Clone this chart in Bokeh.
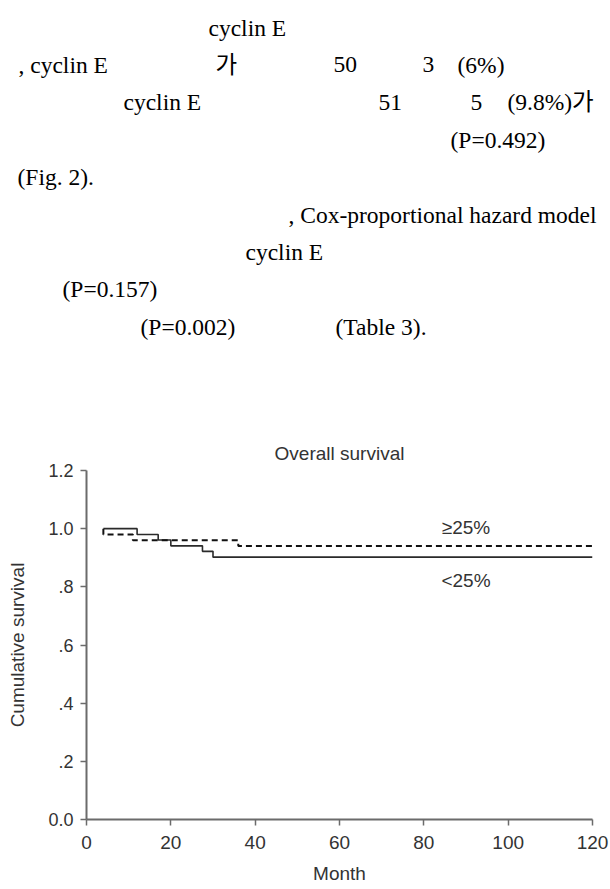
from bokeh.plotting import figure
from bokeh.models import Range1d, FixedTicker, CustomJSTickFormatter
from bokeh.layouts import column
from bokeh.embed import file_html
from bokeh.resources import INLINE
from bokeh.core.properties import value

# ---- Kaplan-Meier data ----
lo_month = [4, 12, 17, 20, 27.5, 30, 120]          # <25% (solid)
lo_surv = [1.0, 0.980, 0.961, 0.941, 0.922, 0.902, 0.902]
hi_month = [4, 4, 11, 36, 120]                      # >=25% (dashed)
hi_surv = [1.0, 0.98, 0.96, 0.94, 0.94]
group_labels = ["\u226525%", "<25%"]
group_label_month = [90, 90]
group_label_surv = [1.004, 0.822]

x_ticks = [0, 20, 40, 60, 80, 100, 120]
y_ticks = [0, 0.2, 0.4, 0.6, 0.8, 1.0, 1.2]
y_tick_labels = ["0.0", ".2", ".4", ".6", ".8", "1.0", "1.2"]

# ---- text fragments of the page above the figure ----
frag_text = ["cyclin  E",
             ", cyclin E", "\uac00", "50", "3", "(6%)",
             "cyclin E", "51", "5", "(9.8%)\uac00",
             "(P=0.492)",
             "(Fig. 2).",
             ", Cox-proportional hazard model",
             "cyclin  E",
             "(P=0.157)",
             "(P=0.002)", "(Table 3)."]
frag_x = [208, 18, 215, 333, 422, 457, 123, 378, 470, 507, 450, 17, 288, 245, 62, 140, 335]
frag_line = [0, 1, 1, 1, 1, 1, 2, 2, 2, 2, 3, 4, 5, 6, 7, 8, 8]
LINE0 = 27
LINE_H = 37.4

SANS = "Liberation Sans"
SERIF = "Liberation Serif, Noto Sans CJK KR"

W, H = 610, 889
TOP_H = 345
F_LEFT, F_RIGHT, F_TOP, F_BOTTOM = 86, 592, 470, 819

# ---- top: text panel (page coordinates) ----
t = figure(width=W, height=TOP_H, x_range=Range1d(0, W), y_range=Range1d(TOP_H, 0),
           output_backend="svg", toolbar_location=None, min_border=0,
           x_axis_location=None, y_axis_location=None, frame_align=False)
t.grid.visible = False
t.outline_line_color = None
t.text(x=frag_x, y=[LINE0 + LINE_H * k for k in frag_line], text=frag_text,
       text_font=value(SERIF), text_font_size="23.5px", text_color="#000000",
       text_align="left", text_baseline="alphabetic")

# ---- bottom: survival chart ----
CH = H - TOP_H
p = figure(width=W, height=CH, x_range=Range1d(0, 120), y_range=Range1d(0, 1.2),
           output_backend="svg", toolbar_location=None, frame_align=False,
           min_border_left=F_LEFT, min_border_right=W - F_RIGHT,
           min_border_top=F_TOP - TOP_H, min_border_bottom=H - F_BOTTOM,
           title="Overall survival")
p.title.align = "center"
p.title.text_font = SANS
p.title.text_font_size = "19px"
p.title.text_font_style = "normal"
p.title.text_color = "#333333"
p.title.standoff = 13
p.grid.visible = False
p.outline_line_color = None

AX = "#6b6b6b"
for ax in (p.xaxis[0], p.yaxis[0]):
    ax.axis_line_color = AX
    ax.axis_line_width = 2
    ax.major_tick_line_color = AX
    ax.major_tick_line_width = 1.5
    ax.major_tick_in = 0
    ax.major_tick_out = 6
    ax.minor_tick_in = 0
    ax.minor_tick_out = 0
    ax.major_label_text_font = SANS
    ax.major_label_text_color = "#333333"
    ax.axis_label_text_font = SANS
    ax.axis_label_text_font_size = "19px"
    ax.axis_label_text_font_style = "normal"
    ax.axis_label_text_color = "#333333"

p.xaxis.ticker = FixedTicker(ticks=x_ticks)
p.xaxis.major_label_text_font_size = "19px"
p.xaxis.major_label_standoff = 10
p.xaxis.axis_label = "Month"
p.xaxis.axis_label_standoff = 11

p.yaxis.ticker = FixedTicker(ticks=y_ticks)
p.yaxis.major_label_text_font_size = "18px"
p.yaxis.major_label_standoff = 7
p.yaxis.formatter = CustomJSTickFormatter(
    args=dict(tv=y_ticks, tl=y_tick_labels),
    code="""
    for (let i = 0; i < tv.length; i++) {
        if (Math.abs(tv[i] - tick) < 1e-9) return tl[i];
    }
    return String(tick);
    """)
p.yaxis.axis_label = "Cumulative survival"
p.yaxis.axis_label_standoff = 17

p.step(lo_month, lo_surv, mode="after", line_color="#2a2a2a", line_width=1.6)
p.step(hi_month, hi_surv, mode="after", line_color="#111111", line_width=2, line_dash="6 4")

p.text(x=group_label_month, y=group_label_surv, text=group_labels,
       text_font=value(SANS), text_font_size="19px", text_color="#333333",
       text_align="center", text_baseline="middle")

layout = column(t, p, spacing=0)
open("out.html", "w").write(file_html(layout, INLINE))
